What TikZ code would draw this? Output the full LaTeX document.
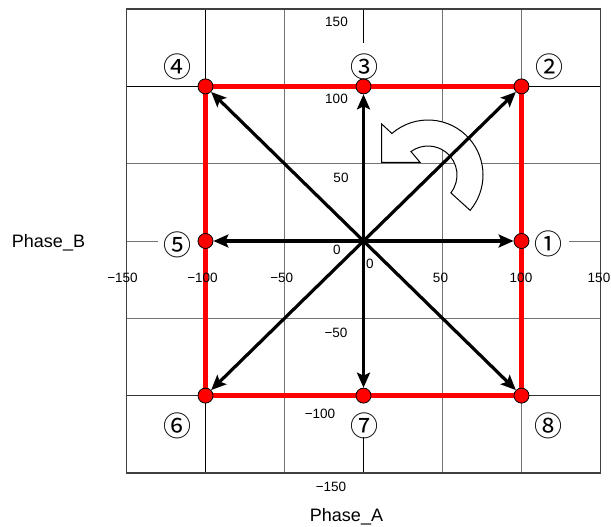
\documentclass[tikz,border=0pt]{standalone}
\usepackage{fontspec}
\setmainfont{Liberation Sans}
\newfontfamily\circfont{Noto Sans CJK JP}
\usetikzlibrary{arrows.meta,calc}
\begin{document}
\begin{tikzpicture}[x=1pt,y=-1pt,
  gridl/.style={line width=1pt, draw=black!55},
  gridk/.style={line width=1pt, draw=black},
  border/.style={line width=1.2pt, draw=black!75},
  redsq/.style={draw=red, line width=4.5pt},
  dotn/.style={circle, fill=red, draw=black, line width=0.8pt, minimum size=15pt, inner sep=0pt},
  vec/.style={draw=black, line width=3.2pt, -{Stealth[length=15pt,width=13pt,inset=3pt]}},
  num/.style={font=\circfont\fontsize{28}{28}\selectfont, inner sep=0pt, anchor=center},
  tick/.style={font=\fontsize{13.5}{14}\selectfont, inner sep=0pt, anchor=base},
  axl/.style={font=\fontsize{18}{20}\selectfont, inner sep=0pt, anchor=base},
  curv/.style={draw=black, line width=1pt, fill=white, line join=miter}]
\useasboundingbox (0,0) rectangle (611,527);

% data coordinate system
\begin{scope}[shift={(363.5,241)}, x=1.58pt, y=1.546pt]
  \draw[gridl] (-50,-150) -- (-50,150);
  \draw[gridl] (50,-150) -- (50,150);
  \draw[gridl] (100,-150) -- (100,150);
  \draw[gridk] (-100,-150) -- (-100,150);
  \draw[gridk] (-150,100) -- (150,100);
  \draw[gridl] (-150,50) -- (150,50);
  \draw[gridl] (-150,-50) -- (150,-50);
  \draw[gridl, draw=black!80] (-150,-100) -- (150,-100);
  \draw[gridk] (0,150) -- (0,128);
  \draw[gridk] (0,-127) -- (0,-150);
  \draw[gridl] (-150,0) -- (-130,0);
  \draw[gridl] (130,0) -- (150,0);
  \draw[border] (-150,-150) rectangle (150,150);
  \coordinate (O) at (0,0);
  \coordinate (c1) at (100,0);
  \coordinate (c2) at (100,100);
  \coordinate (c3) at (0,100);
  \coordinate (c4) at (-100,100);
  \coordinate (c5) at (-100,0);
  \coordinate (c6) at (-100,-100);
  \coordinate (c7) at (0,-100);
  \coordinate (c8) at (100,-100);
\end{scope}

% curved rotation arrow
\coordinate (ca) at (428,175);
\draw[curv] (381.7,124) -- ($(ca)+(-131:55)$) arc[start angle=-131, end angle=40, radius=55]
  -- ($(ca)+(38:29)$) arc[start angle=38, end angle=-126, radius=29]
  -- (420,162.3) -- (381.7,162.3) -- cycle;

% red square
\draw[redsq] (c2) -- (c4) -- (c6) -- (c8) -- cycle;

% points
\foreach \i in {1,...,8} {\node[dotn] (p\i) at (c\i) {};}

% vectors
\foreach \i in {1,...,8} {\draw[vec] (O) -- (p\i);}

% circled labels
\node[num] (n1) at (548.5,244) {①};
\node[num] (n2) at (549,67) {②};
\node[num] (n3) at (364,67) {③};
\node[num] (n4) at (177.5,67) {④};
\node[num] (n5) at (177,244.5) {⑤};
\node[num] (n6) at (177,426) {⑥};
\node[num] (n7) at (364.5,426) {⑦};
\node[num] (n8) at (548.7,425.5) {⑧};

% y tick labels
\node[tick] (ty1) at (336.5,27) {150};
\node[tick] (ty2) at (336.5,103) {100};
\node[tick] (ty3) at (341,182) {50};
\node[tick] (ty4) at (337,254) {0};
\node[tick] (ty5) at (336,337) {−50};
\node[tick] (ty6) at (320,418) {−100};
\node[tick] (ty7) at (331,491) {−150};

% x tick labels
\node[tick] (tx1) at (122.5,282.5) {−150};
\node[tick] (tx2) at (202.5,282.5) {−100};
\node[tick] (tx3) at (281.7,282.5) {−50};
\node[tick] (tx4) at (370,268) {0};
\node[tick] (tx5) at (440.5,282.5) {50};
\node[tick] (tx6) at (521,282.5) {100};
\node[tick] (tx7) at (599,282.5) {150};

% axis titles
\node[axl] (lb) at (48.5,247) {Phase\_B};
\node[axl] (la) at (346.5,521) {Phase\_A};
\end{tikzpicture}
\end{document}
